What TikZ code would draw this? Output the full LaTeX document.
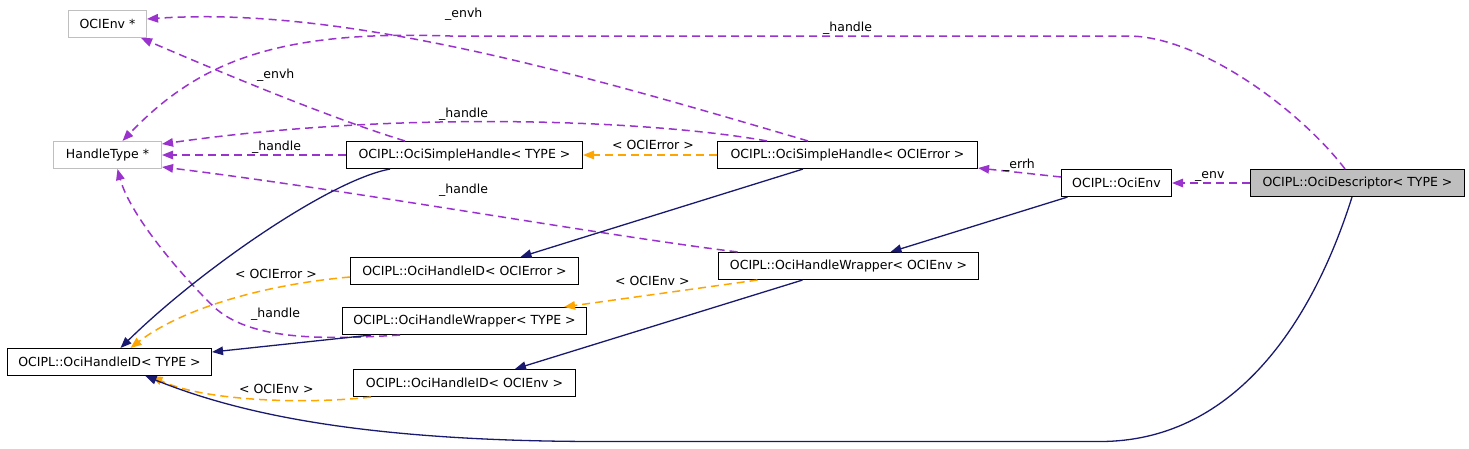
\documentclass[tikz,border=0pt]{standalone}
\usepackage{fontspec}
\setmainfont{DejaVu Sans}
\usetikzlibrary{arrows.meta,calc}
\definecolor{pur}{HTML}{9A32CD}
\definecolor{nav}{HTML}{191970}
\definecolor{org}{HTML}{FFA500}
\definecolor{grb}{HTML}{BFBFBF}
\begin{document}
\begin{tikzpicture}[x=1pt,y=-1pt,
  box/.style={draw=black, line width=1.1pt, minimum height=27pt, inner sep=0pt, font=\fontsize{12.5}{14}\selectfont, anchor=center},
  ext/.style={box, draw=grb},
  cur/.style={box, fill=grb},
  lbl/.style={font=\fontsize{12.5}{14}\selectfont, inner sep=0pt, anchor=base west},
  tip/.style={-{Triangle[length=11pt,width=8.5pt]}},
  pe/.style={draw=pur, line width=1.5pt, dash pattern=on 8pt off 5pt, tip, color=pur},
  oe/.style={draw=org, line width=1.5pt, dash pattern=on 8pt off 5pt, tip, color=org},
  ne/.style={draw=nav, line width=1.3pt, tip, color=nav}
]
\useasboundingbox (0,0) rectangle (1469,448);
% nodes
\node[ext, minimum width=78pt] (envp) at (107.5,24) {OCIEnv *};
\node[ext, minimum width=108pt] (ht) at (107.5,155) {HandleType *};
\node[box, minimum width=236pt] (sht) at (464.5,155) {OCIPL::OciSimpleHandle< TYPE >};
\node[box, minimum width=260pt] (she) at (847.5,155) {OCIPL::OciSimpleHandle< OCIError >};
\node[box, minimum width=110pt] (env) at (1116.5,183) {OCIPL::OciEnv};
\node[cur, minimum width=214pt] (desc) at (1357.5,183) {OCIPL::OciDescriptor< TYPE >};
\node[box, minimum width=228pt] (hide) at (464.5,271) {OCIPL::OciHandleID< OCIError >};
\node[box, minimum width=260pt] (hwe) at (848.5,266) {OCIPL::OciHandleWrapper< OCIEnv >};
\node[box, minimum width=244pt] (hwt) at (464.5,321) {OCIPL::OciHandleWrapper< TYPE >};
\node[box, minimum width=204pt] (hidt) at (109.5,362) {OCIPL::OciHandleID< TYPE >};
\node[box, minimum width=222pt] (hidenv) at (464.5,383) {OCIPL::OciHandleID< OCIEnv >};

% purple edges
\draw[pe] (desc.west) -- (env.east);
\node[lbl] (l1) at (1195,178) {\_env};
\draw[pe] ([xshift=-12.5pt]desc.north) .. controls (1300,110) and (1200,36) .. (1128,36) -- (450,36) .. controls (280,30) and (200,60) .. ([xshift=15pt]ht.north);
\node[lbl] (l2) at (823,31) {\_handle};
\draw[pe] ([xshift=-39.5pt]she.north) .. controls (600,80) and (350,5) .. ([yshift=5pt]envp.east);
\node[lbl] (l3) at (445,17) {\_envh};
\draw[pe] ([xshift=-59.5pt]sht.north) .. controls (330,118) and (220,72) .. ([xshift=-6pt]envp.south east);
\node[lbl] (l4) at (257,78) {\_envh};
\draw[pe] ([xshift=-80.5pt]she.north) .. controls (650,120) and (400,110) .. ([yshift=11pt]ht.east);
\node[lbl] (l5) at (439,117) {\_handle};
\draw[pe] (sht.west) -- (ht.east);
\node[lbl] (l6) at (252,150) {\_handle};
\draw[pe] ([xshift=-111pt]hwe.north) .. controls (600,235) and (350,190) .. ([yshift=-12pt]ht.east);
\node[lbl] (l7) at (439,193) {\_handle};
\draw[pe] ([xshift=-64.5pt]hwt.south) .. controls (320,340) and (250,340) .. (214,307) .. controls (180,274) and (130,215) .. ([xshift=10pt]ht.south);
\node[lbl] (l8) at (251,317) {\_handle};
\draw[pe] ([yshift=6pt]env.west) -- ([yshift=1pt]she.south east);
\node[lbl] (l9) at (1003,168) {\_errh};

% orange edges
\draw[oe] (she.west) -- (sht.east);
\node[lbl] (l10) at (612,149) {< OCIError >};
\draw[oe] ([xshift=-91pt]hwe.south) -- ([xshift=-23pt]hwt.north east);
\node[lbl] (l11) at (615,285) {< OCIEnv >};
\draw[oe] ([yshift=-6pt]hide.west) .. controls (260,285) and (180,310) .. ([xshift=21pt]hidt.north);
\node[lbl] (l12) at (235,278) {< OCIError >};
\draw[oe] ([xshift=-93.5pt]hidenv.south) .. controls (300,405) and (200,400) .. ([xshift=42pt]hidt.south);
\node[lbl] (l13) at (239,393) {< OCIEnv >};

% navy edges
\draw[ne] ([xshift=-74.5pt]sht.south) .. controls (330,180) and (200,270) .. ([xshift=11pt]hidt.north);
\draw[ne] ([xshift=-44.5pt]she.south) -- ([xshift=56pt]hide.north);
\draw[ne] ([xshift=-49pt]env.south) -- ([xshift=42pt]hwe.north);
\draw[ne] ([xshift=-93.5pt]hwt.south) -- ([yshift=10pt]hidt.east);
\draw[ne] ([xshift=-46pt]hwe.south) -- ([xshift=50.5pt]hidenv.north);
\draw[ne] ([xshift=-5.5pt]desc.south) .. controls (1310,330) and (1230,441.5) .. (1100,441.5) -- (600,441.5) .. controls (350,441.5) and (230,410) .. ([xshift=36pt]hidt.south);
\end{tikzpicture}
\end{document}
